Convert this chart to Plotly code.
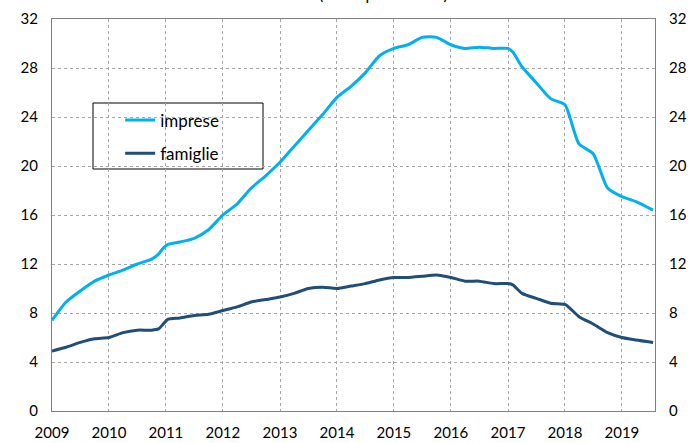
import plotly.graph_objects as go

# Dati (valori percentuali)
dates = ['2009-01-01', '2009-04-01', '2009-07-01', '2009-10-01',
         '2010-01-01', '2010-04-01', '2010-07-01', '2010-10-01', '2010-11-15', '2010-12-15',
         '2011-01-15', '2011-04-01', '2011-07-01', '2011-10-01',
         '2012-01-01', '2012-04-01', '2012-07-01', '2012-10-01',
         '2013-01-01', '2013-04-01', '2013-07-01', '2013-10-01',
         '2014-01-01', '2014-04-01', '2014-07-01', '2014-10-01',
         '2015-01-01', '2015-04-01', '2015-07-01', '2015-10-01',
         '2016-01-01', '2016-04-01', '2016-07-01', '2016-10-01',
         '2017-01-01', '2017-02-01', '2017-04-01', '2017-07-01', '2017-10-01',
         '2018-01-01', '2018-02-01', '2018-04-01', '2018-07-01', '2018-10-01',
         '2019-01-01', '2019-04-01', '2019-07-20']
imprese = [7.4, 8.9, 9.8, 10.6,
           11.1, 11.5, 12.0, 12.4, 12.8, 13.3,
           13.6, 13.8, 14.1, 14.8,
           16.0, 16.9, 18.2, 19.2,
           20.3, 21.6, 22.9, 24.2,
           25.6, 26.5, 27.6, 29.0,
           29.6, 29.9, 30.5, 30.5,
           29.9, 29.6, 29.7, 29.6,
           29.6, 29.3, 28.1, 26.8, 25.5,
           25.0, 24.0, 21.8, 21.0, 18.2,
           17.5, 17.1, 16.4]
famiglie = [4.9, 5.2, 5.6, 5.9,
            6.0, 6.4, 6.6, 6.6, 6.7, 7.1,
            7.5, 7.6, 7.8, 7.9,
            8.2, 8.5, 8.9, 9.1,
            9.3, 9.6, 10.0, 10.1,
            10.0, 10.2, 10.4, 10.7,
            10.9, 10.9, 11.0, 11.1,
            10.9, 10.6, 10.6, 10.4,
            10.4, 10.3, 9.6, 9.2, 8.8,
            8.7, 8.4, 7.7, 7.1, 6.4,
            6.0, 5.8, 5.6]
years = [str(y) for y in range(2009, 2020)]
y_ticks = list(range(0, 33, 4))

font = 'Lato'

fig = go.Figure()
fig.add_trace(go.Scatter(x=dates, y=imprese, name='imprese', mode='lines',
                         line=dict(color='#00B0F0', width=3, shape='spline', smoothing=0.6),
                         legendgroup='a'))
fig.add_trace(go.Scatter(x=dates, y=famiglie, name='famiglie', mode='lines',
                         line=dict(color='#1F4E79', width=3, shape='spline', smoothing=0.6),
                         legendgroup='b'))
# asse destro duplicato
fig.add_trace(go.Scatter(x=dates[:1], y=[0], yaxis='y2', mode='lines',
                         showlegend=False, hoverinfo='skip', line=dict(width=0)))

grid = dict(showgrid=True, gridcolor='#A6A6A6', gridwidth=1, griddash='3px,3px')
fig.update_layout(
    width=692, height=443,
    margin=dict(l=52, r=37, t=19, b=32, autoexpand=False),
    paper_bgcolor='white', plot_bgcolor='white',
    font=dict(family=font, size=15, color='black'),
    showlegend=True,
    legend=dict(x=0.113, y=0.787, xanchor='left', yanchor='top',
                bgcolor='rgba(0,0,0,0)', borderwidth=0,
                font=dict(size=17), itemwidth=30, tracegroupgap=8),
    xaxis=dict(type='date', range=['2009-01-01', '2019-08-01'],
               tickvals=[y + '-01-01' for y in years], ticktext=years,
               showline=True, linecolor='#808080', linewidth=1, mirror=True,
               ticks='', ticklabelstandoff=8, automargin=False, **grid),
    yaxis=dict(range=[0, 32], tickvals=y_ticks, showline=True, linecolor='#808080',
               linewidth=1, ticks='', zeroline=False, ticklabelstandoff=10,
               automargin=False, **grid),
    yaxis2=dict(range=[0, 32], tickvals=y_ticks, overlaying='y', side='right',
                showline=True, linecolor='#808080', linewidth=1, ticks='',
                showgrid=False, zeroline=False, ticklabelstandoff=10, automargin=False),
    shapes=[dict(type='rect', xref='paper', yref='paper',
                 x0=(93 - 52) / 603, x1=(263 - 52) / 603,
                 y0=(411 - 169) / 392, y1=(411 - 103) / 392,
                 line=dict(color='black', width=1), fillcolor='white', layer='below')],
    annotations=[dict(text='(valori percentuali)', xref='paper', yref='paper',
                      x=0.549, y=1.036, xanchor='center', yanchor='bottom',
                      showarrow=False, font=dict(size=16, color='black'))],
)

fig.write_html('out.html', config={'displayModeBar': False},
               post_script="document.body.style.margin='0px';")
